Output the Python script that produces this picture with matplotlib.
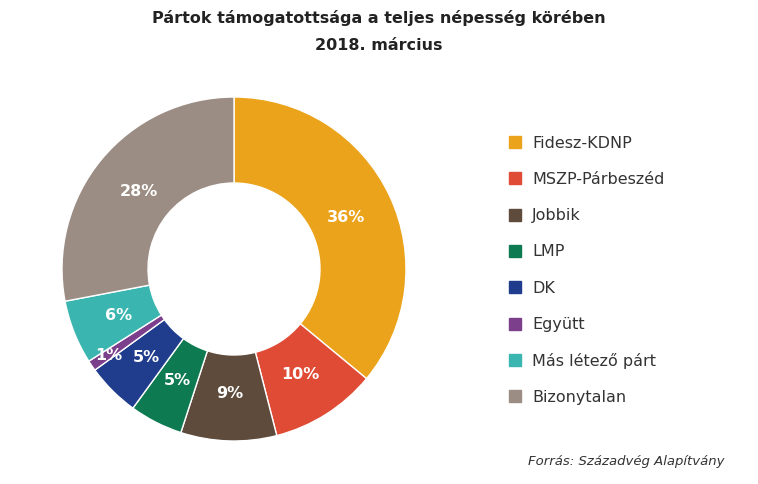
import matplotlib
matplotlib.use("Agg")
import matplotlib.pyplot as plt
from matplotlib.patches import Rectangle
import numpy as np

parties = ["Fidesz-KDNP", "MSZP-Párbeszéd", "Jobbik", "LMP", "DK", "Együtt", "Más létező párt", "Bizonytalan"]
values = [36, 10, 9, 5, 5, 1, 6, 28]
colors = ["#EBA31B", "#E04B35", "#5E4B3C", "#0E7A52", "#1F3D8C", "#7B3F8C", "#3BB5B0", "#9C8D84"]

fig = plt.figure(figsize=(7.58, 4.85), dpi=100)
fig.patch.set_facecolor("white")
ax = fig.add_axes([(234-172)/758, 1-(270+172)/485, 344/758, 344/485])
wedges, texts = ax.pie(values, colors=colors, startangle=90, counterclock=False, radius=1,
       wedgeprops=dict(width=0.5, edgecolor="white", linewidth=1), frame=False)
ax.set_xlim(-1, 1); ax.set_ylim(-1, 1)
ax.set_aspect("equal")
ax.axis("off")

for i, (w, v) in enumerate(zip(wedges, values)):
    ang = np.deg2rad((w.theta1 + w.theta2) / 2)
    d = 0.88 if v == 1 else 0.72
    ax.text(d*np.cos(ang), d*np.sin(ang), f"{v}%", ha="center", va="center",
            color="white", fontsize=11.5, fontweight="bold")

fig.text(0.5, 1-18/485, "Pártok támogatottsága a teljes népesség körében", ha="center", va="center",
         fontsize=11.5, fontweight="bold", color="#222222")
fig.text(0.5, 1-45/485, "2018. március", ha="center", va="center",
         fontsize=11.5, fontweight="bold", color="#222222")

for i, (p, c) in enumerate(zip(parties, colors)):
    y = 143 + i * 36.3
    fig.patches.append(Rectangle((509/758, 1-(y+6)/485), 12/758, 12/485, color=c, transform=fig.transFigure))
    fig.text(532/758, 1-y/485, p, va="center", ha="left", fontsize=11.5, color="#333333")

fig.text(725/758, 1-462/485, "Forrás: Századvég Alapítvány", ha="right", va="center",
         fontsize=9.5, style="italic", color="#333333")
fig.savefig("out.png", dpi=100)
